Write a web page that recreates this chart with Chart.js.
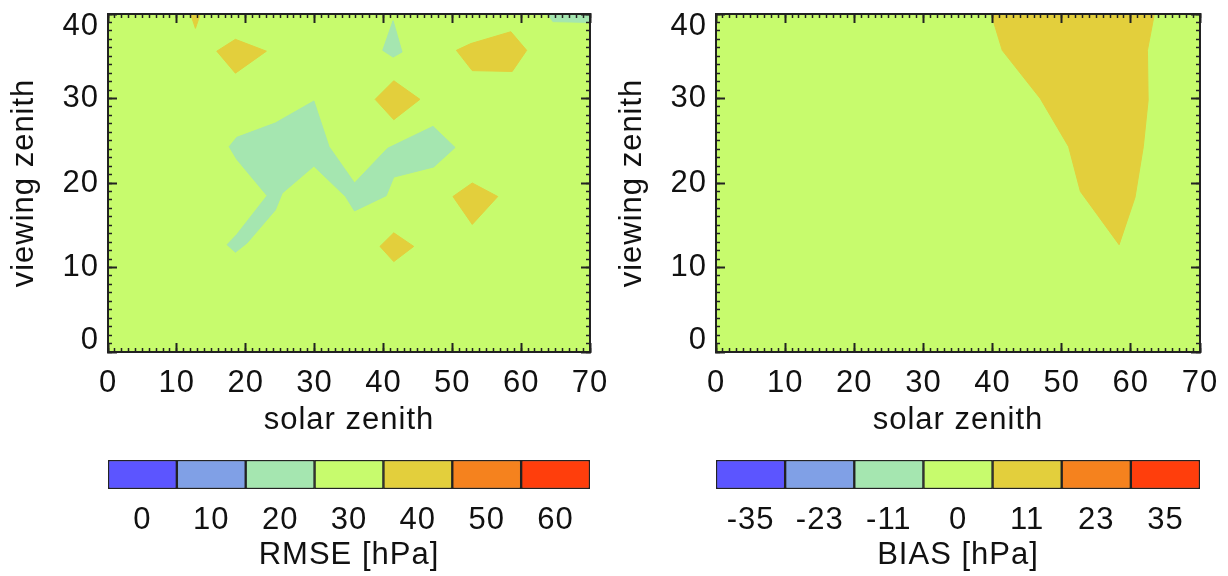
<!DOCTYPE html>
<html>
<head>
<meta charset="utf-8">
<title>RMSE and BIAS over solar / viewing zenith</title>
<script src="https://cdn.jsdelivr.net/npm/chart.js@4.4.1/dist/chart.umd.min.js"></script>
<style>
  html, body { margin: 0; background: #fff; }
  #page { position: relative; width: 1228px; height: 576px; }
  #page canvas { position: absolute; left: 0; top: 0; }
</style>
</head>
<body>
<div id="page">
  <canvas id="rmseMap" width="1228" height="576"></canvas>
  <canvas id="biasMap" width="1228" height="576"></canvas>
  <canvas id="rmseBar" width="1228" height="576"></canvas>
  <canvas id="biasBar" width="1228" height="576"></canvas>
</div>
<script>
// colour levels shared by both panels (index 0 = lowest)
const levelColors = ['#5c55ff', '#80a0e6', '#a5e6b0', '#c7fb6d', '#e3cf3c', '#f5821e', '#ff3e0c'];
const rmseTicks = ['0', '10', '20', '30', '40', '50', '60'];
const biasTicks = ['-35', '-23', '-11', '0', '11', '23', '35'];
const barFill = [1, 1, 1, 1, 1, 1, 1];

const solarRange = [0, 70];
const viewRange = [0, 40];

// filled contour patches, [solar zenith, viewing zenith] vertices
const fullField = [[0, 0], [70, 0], [70, 40], [0, 40]];

const rmseTealBand = [
  [17.6, 24.3], [18.7, 25.4], [24.3, 27.1], [29.9, 29.7], [32.1, 24.3], [35.8, 20.0],
  [40.6, 24.1], [47.2, 26.7], [50.4, 24.2], [47.3, 21.9], [41.5, 20.7], [40.4, 18.5],
  [35.8, 16.7], [34.5, 18.4], [29.9, 22.0], [25.3, 18.8], [24.3, 16.8], [20.2, 12.9],
  [18.5, 11.8], [17.3, 12.7], [18.7, 13.9], [23.1, 18.5], [18.7, 22.8]
];
const rmseTealSpike = [[41.4, 39.2], [42.7, 35.5], [41.4, 34.9], [39.9, 35.7]];
const rmseTealCorner = [[63.9, 40], [70, 40], [70, 39.0], [64.6, 39.1]];
const rmseHighLeft = [[15.8, 35.6], [18.5, 37.0], [23.0, 35.6], [18.5, 33.0]];
const rmseHighRight = [[50.6, 35.7], [52.7, 36.5], [58.5, 37.9], [60.8, 35.7], [58.7, 33.2], [52.9, 33.3]];
const rmseHighMid = [[38.8, 29.9], [41.5, 32.1], [45.3, 29.9], [41.5, 27.5]];
const rmseHighLow = [[39.5, 12.5], [41.5, 14.1], [44.4, 12.5], [41.5, 10.7]];
const rmseHighSide = [[50.1, 18.4], [52.9, 20.0], [56.6, 18.4], [52.9, 15.1]];
const rmseHighTop = [[12.0, 40], [13.4, 40], [12.7, 38.3]];
const rmsePeakTop = [[12.4, 40], [13.0, 40], [12.7, 39.2]];

const biasPositive = [
  [39.8, 40], [41.4, 35.7], [46.9, 30.0], [51.0, 24.3], [52.7, 19.0], [58.3, 12.7],
  [60.6, 18.3], [61.8, 24.3], [62.5, 29.8], [62.4, 35.7], [63.4, 40]
];

const rmsePatches = [
  [fullField, 3], [rmseTealBand, 2], [rmseTealSpike, 2], [rmseTealCorner, 2],
  [rmseHighLeft, 4], [rmseHighRight, 4], [rmseHighMid, 4], [rmseHighLow, 4],
  [rmseHighSide, 4], [rmseHighTop, 4], [rmsePeakTop, 5]
];
const biasPatches = [[fullField, 3], [biasPositive, 4]];

const FONT = '"Liberation Sans", Arial, Helvetica, sans-serif';
const FONT_SIZE = 31;
const INK = '#222';

Chart.defaults.font.family = FONT;
Chart.defaults.font.size = FONT_SIZE;
Chart.defaults.color = '#111';
Chart.defaults.animation = false;
Chart.defaults.responsive = false;
Chart.defaults.events = [];
Chart.defaults.plugins.legend.display = false;
Chart.defaults.plugins.tooltip.enabled = false;

// slightly wider lettering, set after the canvas has been sized
Chart.register({
  id: 'wideText',
  beforeLayout(chart) { chart.ctx.letterSpacing = '1px'; },
  beforeDraw(chart) { chart.ctx.letterSpacing = '1px'; }
});

// pin an axis box to a fixed thickness so the frame sits where we want it
function boxSize(size) {
  return scale => {
    if (scale.isHorizontal()) scale.height = size;
    else scale.width = size;
    scale.paddingLeft = scale.paddingRight = scale.paddingTop = scale.paddingBottom = 0;
  };
}

// inward tick marks, drawn above the filled contours
function tickGrid(len, width) {
  return {
    display: true, drawOnChartArea: false, drawTicks: true, z: 1,
    tickLength: -len, tickWidth: width, tickColor: INK
  };
}

const frameBorder = { display: true, color: INK, width: 2, z: 1 };
const noBorder = { display: false };

// y labels at the frame ends are nudged inward
const atEdge = v => v === viewRange[0] || v === viewRange[1];

function frameAxes() {
  const xr = { type: 'linear', min: solarRange[0], max: solarRange[1] };
  const yr = { type: 'linear', min: viewRange[0], max: viewRange[1] };
  const major = { stepSize: 10, display: false };
  const minor = { stepSize: 1, maxTicksLimit: 200, display: false };
  return {
    x: {
      ...xr, position: 'bottom', afterFit: boxSize(100),
      ticks: { stepSize: 10, padding: 22, autoSkip: false, maxRotation: 0 },
      grid: tickGrid(9, 2), border: frameBorder,
      title: { display: true, text: 'solar zenith', padding: { top: 0, bottom: 13 } }
    },
    y: {
      ...yr, position: 'left', afterFit: boxSize(108),
      ticks: {
        stepSize: 10, padding: 18, autoSkip: false,
        callback: v => v === viewRange[0] ? [String(v), ''] : v === viewRange[1] ? ['', String(v)] : String(v),
        font: ctx => ({ family: FONT, size: FONT_SIZE, lineHeight: ctx.tick && atEdge(ctx.tick.value) ? '24px' : 1.2 })
      },
      grid: tickGrid(9, 2), border: frameBorder,
      title: { display: true, text: 'viewing zenith', padding: { top: 6, bottom: 0 } }
    },
    xMinor: { ...xr, position: 'bottom', weight: -1, afterFit: boxSize(0), ticks: minor, grid: tickGrid(4, 1.5), border: noBorder },
    yMinor: { ...yr, position: 'left', weight: -1, afterFit: boxSize(0), ticks: minor, grid: tickGrid(4, 1.5), border: noBorder },
    xTop: { ...xr, position: 'top', afterFit: boxSize(0), ticks: major, grid: tickGrid(9, 2), border: frameBorder },
    xTopMinor: { ...xr, position: 'top', weight: -1, afterFit: boxSize(0), ticks: minor, grid: tickGrid(4, 1.5), border: noBorder },
    yRight: { ...yr, position: 'right', afterFit: boxSize(0), ticks: major, grid: tickGrid(9, 2), border: frameBorder },
    yRightMinor: { ...yr, position: 'right', weight: -1, afterFit: boxSize(0), ticks: minor, grid: tickGrid(4, 1.5), border: noBorder }
  };
}

function patchDatasets(patches) {
  return patches.map(([pts, level], i) => ({
    data: pts.concat([pts[0]]).map(([x, y]) => ({ x, y })),
    xAxisID: 'x', yAxisID: 'y',
    showLine: true, fill: 'shape', tension: 0,
    backgroundColor: levelColors[level], borderColor: levelColors[level], borderWidth: 1,
    pointRadius: 0, order: i === 0 ? 1 : 0
  }));
}

function contourMap(id, patches, padLeft, padRight) {
  new Chart(document.getElementById(id), {
    type: 'scatter',
    data: { datasets: patchDatasets(patches) },
    options: {
      layout: { padding: { left: padLeft, right: padRight, top: 14, bottom: 124 } },
      scales: frameAxes()
    }
  });
}

function colorBar(id, ticks, title, padLeft, padRight) {
  new Chart(document.getElementById(id), {
    type: 'bar',
    data: {
      labels: ticks,
      datasets: [{
        data: barFill, backgroundColor: levelColors, borderColor: INK, borderWidth: 1.5,
        borderSkipped: false, barPercentage: 1, categoryPercentage: 1
      }]
    },
    options: {
      layout: { padding: { left: padLeft, right: padRight, top: 460, bottom: 2 } },
      scales: {
        x: {
          afterFit: boxSize(85), grid: { display: false, drawTicks: false }, border: noBorder,
          ticks: { padding: 13, autoSkip: false, maxRotation: 0 },
          title: { display: true, text: title, padding: { top: 0, bottom: 0 } }
        },
        y: { display: false, min: 0, max: 1 }
      }
    }
  });
}

contourMap('rmseMap', rmsePatches, 0, 638);
contourMap('biasMap', biasPatches, 608, 28);
colorBar('rmseBar', rmseTicks, 'RMSE [hPa]', 108, 638);
colorBar('biasBar', biasTicks, 'BIAS [hPa]', 716, 28);
</script>
</body>
</html>
